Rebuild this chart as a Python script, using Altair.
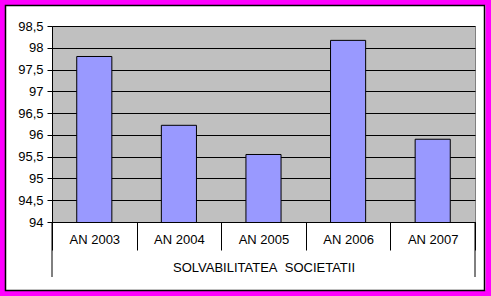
import altair as alt
import pandas as pd

categories = ["AN 2003", "AN 2004", "AN 2005", "AN 2006", "AN 2007"]
values = [97.80, 96.22, 95.55, 98.17, 95.90]
y_ticks = [94, 94.5, 95, 95.5, 96, 96.5, 97, 97.5, 98, 98.5]

df = pd.DataFrame({"cat": categories, "val": values})

W, H = 423, 196
FONT = "Liberation Sans"
FS = 13

x_enc = alt.X(
    "cat:N",
    sort=categories,
    scale=alt.Scale(paddingInner=0, paddingOuter=0),
    axis=alt.Axis(
        title="SOLVABILITATEA\u00a0 SOCIETATII",
        titleFont=FONT, titleFontSize=FS, titleFontWeight="normal", titleColor="black",
        titleY=45, titleBaseline="middle",
        labelFont=FONT, labelFontSize=FS, labelColor="black", labelAngle=0,
        labelPadding=-17,
        tickBand="extent", tickSize=28, tickColor="black", tickWidth=1,
        domainColor="black", domainWidth=1,
        grid=False,
    ),
)

bars = alt.Chart(df).mark_bar(
    width=alt.RelativeBandSize(0.415), fill="#9999FF", stroke="black", strokeWidth=1, clip=True
).encode(
    x=x_enc,
    y=alt.Y(
        "val:Q",
        scale=alt.Scale(domain=[94, 98.5], zero=False, nice=False),
        axis=alt.Axis(
            title=None, values=y_ticks,
            labelExpr="replace(''+datum.value, '.', ',')",
            labelFont=FONT, labelFontSize=FS, labelColor="black", labelPadding=4,
            tickSize=5, tickColor="black", domainColor="black",
            grid=True, gridColor="black", gridWidth=1, gridOpacity=1,
        ),
    ),
)

left_line = alt.Chart(df.head(1)).mark_rule(color="black", strokeWidth=1).encode(
    x=alt.value(0), y=alt.value(H), y2=alt.value(H + 55)
)
right_line = alt.Chart(df.head(1)).mark_rule(color="black", strokeWidth=1).encode(
    x=alt.value(W), y=alt.value(H), y2=alt.value(H + 55)
)

frame_magenta = alt.Chart(df.head(1)).mark_rect(
    fill=None, stroke="#FF00FF", strokeWidth=7, clip=False
).encode(
    x=alt.value(-52 + 1.5), x2=alt.value(491 - 52 - 2), y=alt.value(-26 + 1.5), y2=alt.value(296 - 26 - 2)
)
frame_black = alt.Chart(df.head(1)).mark_rect(
    fill=None, stroke="black", strokeWidth=1.5, clip=False
).encode(
    x=alt.value(5.5 - 52), x2=alt.value(484.5 - 52), y=alt.value(5.5 - 26), y2=alt.value(290.5 - 26)
)

chart = alt.layer(bars, left_line, right_line, frame_magenta, frame_black).properties(
    width=W, height=H,
    autosize=alt.AutoSizeParams(type="none"),
    padding={"left": 52, "top": 26, "right": 16, "bottom": 74},
    background="white",
).configure_view(
    fill="#C0C0C0", stroke="#808080", strokeWidth=1
)

chart.save("out.html", embed_options={"renderer": "svg", "actions": False})
